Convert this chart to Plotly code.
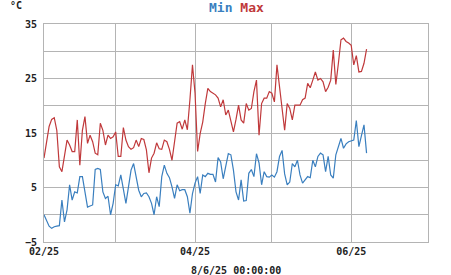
import plotly.graph_objects as go
import pandas as pd

start_date = "2025-02-01"
max_vals = [10.4, 13.7, 16.2, 17.5, 17.8, 15.5, 8.8, 7.9, 11.0, 13.7,
            12.8, 11.6, 11.6, 17.4, 9.1, 15.5, 18.0, 13.1, 14.6, 13.4,
            11.3, 11.0, 16.8, 15.5, 12.8, 14.6, 14.0, 14.3, 15.2, 10.7,
            10.7, 16.0, 13.7, 12.5, 12.0, 12.3, 13.7, 12.5, 14.0, 13.8,
            11.9, 7.7, 10.4, 11.3, 13.2, 12.1, 12.0, 13.7, 13.4, 12.0,
            10.0, 13.7, 16.8, 17.1, 15.7, 17.4, 15.6, 21.1, 27.5, 22.3,
            11.6, 14.9, 17.0, 20.4, 23.2, 22.6, 22.3, 22.0, 21.4, 19.8,
            21.1, 18.3, 19.2, 17.1, 15.2, 17.5, 20.1, 17.4, 16.8, 20.4,
            19.2, 19.5, 22.6, 24.7, 14.6, 20.4, 21.4, 21.4, 22.6, 22.3,
            20.7, 27.5, 23.5, 20.1, 15.5, 20.4, 19.5, 17.4, 20.1, 20.1,
            20.1, 21.1, 21.4, 24.1, 23.3, 24.7, 26.2, 24.7, 25.0, 24.4,
            22.6, 23.4, 24.7, 30.2, 23.9, 27.8, 32.1, 32.4, 31.8, 31.5,
            31.1, 27.5, 29.2, 26.2, 26.3, 27.8, 30.4]
min_vals = [0.0, -1.0, -2.1, -2.5, -2.2, -2.1, -2.0, 2.7, -1.3, 0.9,
            5.5, 2.7, 4.2, 4.0, 7.0, 7.0, 3.9, 1.4, 1.6, 1.8,
            8.3, 8.5, 8.3, 4.2, 3.0, 3.4, 0.0, 2.1, 5.5, 5.3,
            7.3, 4.5, 2.1, 5.1, 8.2, 9.4, 7.0, 4.5, 3.3, 3.9,
            4.0, 3.3, 2.1, 0.0, 3.3, 1.5, 7.0, 9.1, 7.6, 6.8,
            5.1, 3.0, 5.5, 4.4, 4.6, 4.6, 3.3, 0.3, 3.9, 5.8,
            7.0, 3.9, 7.3, 7.0, 7.6, 7.4, 7.4, 6.0, 10.5, 9.7,
            6.6, 8.8, 11.2, 11.0, 8.2, 4.2, 2.7, 6.4, 2.5, 2.6,
            7.6, 8.3, 7.0, 11.2, 9.5, 5.5, 7.9, 7.0, 6.9, 7.3,
            6.9, 7.9, 10.7, 11.8, 7.5, 5.5, 6.0, 9.4, 8.8, 10.0,
            7.3, 5.8, 6.5, 7.0, 6.8, 10.0, 8.8, 10.7, 11.3, 11.0,
            7.9, 10.7, 7.3, 6.7, 11.0, 12.5, 14.0, 12.2, 13.0, 13.4,
            13.5, 13.7, 17.3, 12.5, 14.5, 16.5, 11.3]
dates = pd.date_range(start_date, periods=len(max_vals), freq="D")

y_tick_vals = [-5, 0, 5, 10, 15, 20, 25, 30, 35]
y_tick_text = ["−5", "", "5", "", "15", "", "25", "", "35"]
x_tick_vals = ["2025-02-01", "2025-03-01", "2025-04-01", "2025-05-01", "2025-06-01"]
x_tick_text = ["02/25", "", "04/25", "", "06/25"]
x_range = ["2025-02-01", "2025-07-01"]

MONO = "DejaVu Sans Mono"
RED = "#c0393b"
BLUE = "#3a7fbf"
GRID = "#b4b4b4"

fig = go.Figure()
fig.add_trace(go.Scatter(x=dates, y=min_vals, mode="lines", name="Min",
                         line=dict(color=BLUE, width=1.2)))
fig.add_trace(go.Scatter(x=dates, y=max_vals, mode="lines", name="Max",
                         line=dict(color=RED, width=1.2)))

fig.update_layout(
    width=451, height=275,
    margin=dict(l=44, r=23, t=24, b=33),
    paper_bgcolor="white", plot_bgcolor="white",
    showlegend=False,
    xaxis=dict(type="date", range=x_range, tickmode="array",
               tickvals=x_tick_vals, ticktext=x_tick_text,
               showgrid=True, gridcolor=GRID, gridwidth=1,
               showline=True, linecolor=GRID, linewidth=1, mirror=True,
               ticks="", zeroline=False,
               tickfont=dict(family=MONO, size=10, color="#222", weight="bold")),
    yaxis=dict(range=[-5, 35], tickmode="array",
               tickvals=y_tick_vals, ticktext=y_tick_text,
               showgrid=True, gridcolor=GRID, gridwidth=1,
               showline=True, linecolor=GRID, linewidth=1, mirror=True,
               ticks="", zeroline=False, ticklabelstandoff=4,
               tickfont=dict(family=MONO, size=10, color="#222", weight="bold")),
)

fig.add_annotation(xref="paper", yref="paper", x=0.5, y=1, yshift=17,
                   xanchor="center", yanchor="middle", showarrow=False,
                   text=f"<span style='color:{BLUE}'>Min</span> <span style='color:{RED}'>Max</span>",
                   font=dict(family=MONO, size=13, weight="bold"))
fig.add_annotation(xref="paper", yref="paper", x=-0.073, y=1, yshift=19,
                   xanchor="center", yanchor="middle", showarrow=False,
                   text="°C", font=dict(family=MONO, size=10, color="#222", weight="bold"))
fig.add_annotation(xref="paper", yref="paper", x=0.5, y=0, yshift=-28,
                   xanchor="center", yanchor="middle", showarrow=False,
                   text="8/6/25 00:00:00",
                   font=dict(family=MONO, size=10, color="#222", weight="bold"))

fig.write_html("out.html")
